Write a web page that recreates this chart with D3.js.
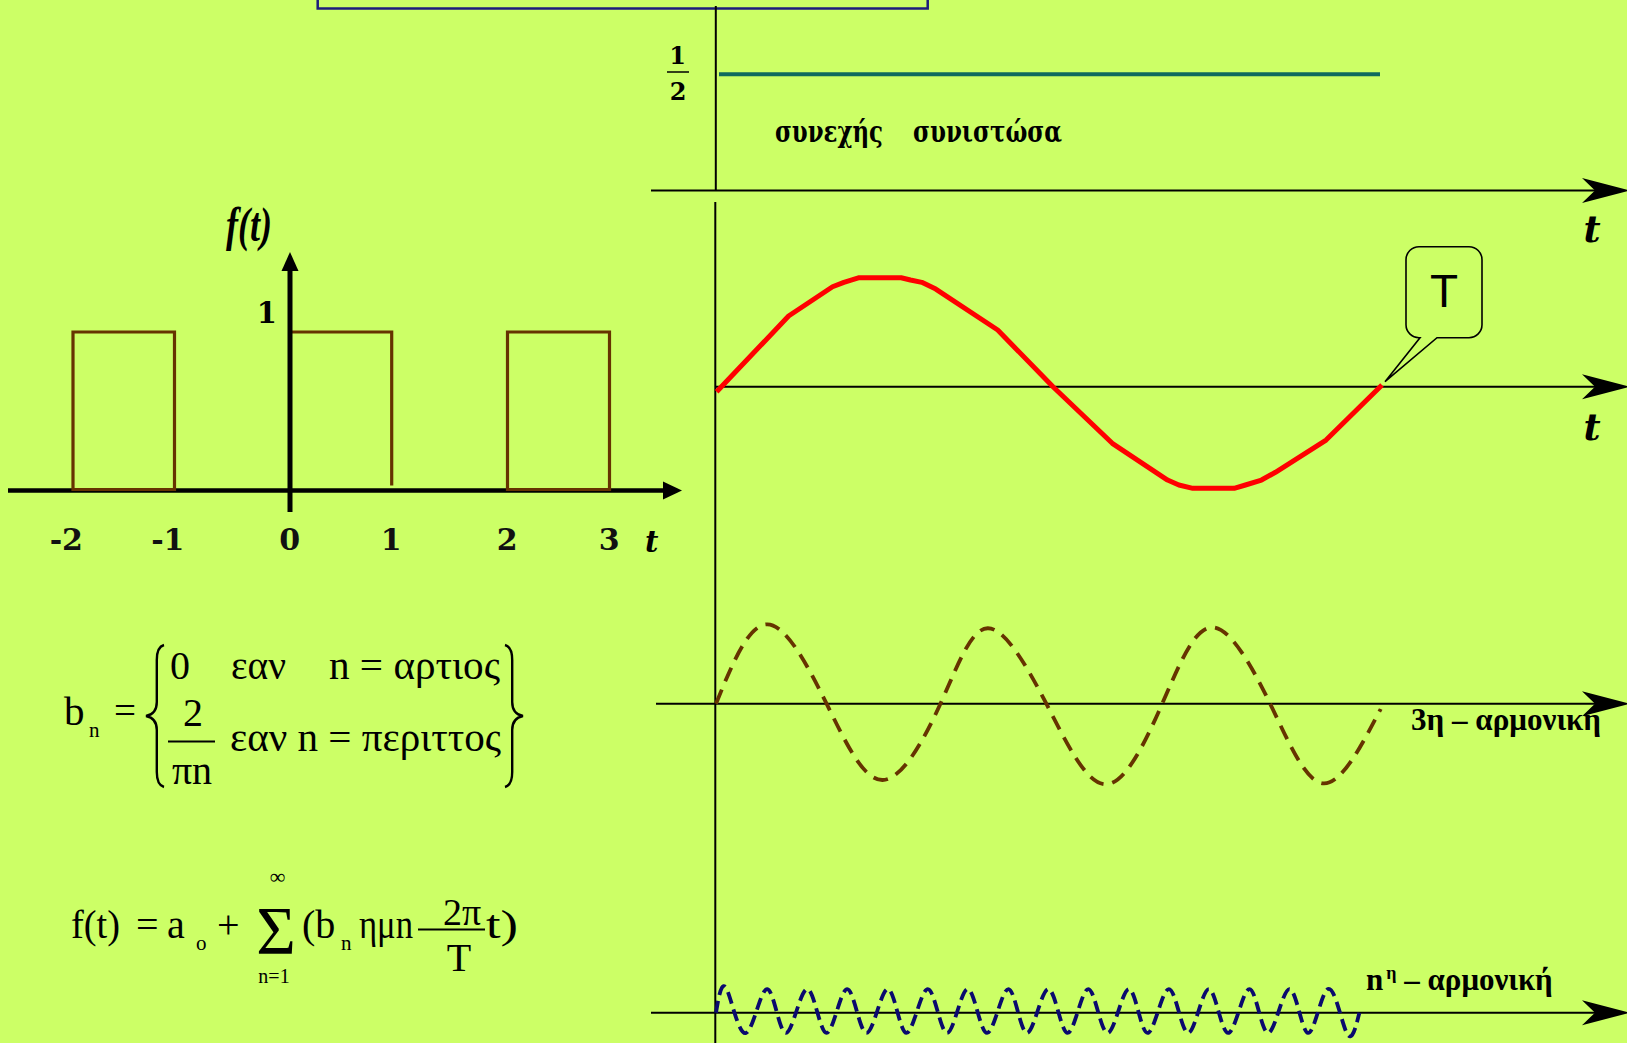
<!DOCTYPE html>
<html>
<head>
<meta charset="utf-8">
<script src="https://cdn.jsdelivr.net/npm/d3@7"></script>
<style>
  html, body { margin: 0; padding: 0; background: #ccff66; overflow: hidden; }
  svg { display: block; }
</style>
</head>
<body>
<svg id="chart" width="1627" height="1043"></svg>
<script>
// ---- Square pulse train f(t) ----
const pulseStarts = [-2, 0, 2];
const pulseEnds = [-1, 1, 3];
const pulseHeight = 1;
const squareTicks = [-2, -1, 0, 1, 2, 3];
const squareTickLabels = ["-2", "-1", "0", "1", "2", "3"];

// ---- DC component a0 ----
const dcValue = 0.5;

// ---- Fundamental over one period T (time as a fraction of T) ----
const fundT = [0.001, 0.109, 0.175, 0.192, 0.215, 0.278, 0.292, 0.309, 0.330, 0.423, 0.506,
               0.595, 0.678, 0.695, 0.716, 0.778, 0.795, 0.819, 0.840, 0.916, 1.000];
const fundV = [-0.048, 0.673, 0.952, 0.994, 1.038, 1.038, 1.016, 0.994, 0.930, 0.540, 0.000,
               -0.539, -0.889, -0.936, -0.968, -0.968, -0.936, -0.889, -0.815, -0.508, 0.016];

// ---- 3rd harmonic over the same period ----
const h3T = [0.000, 0.077, 0.166, 0.250, 0.337, 0.408, 0.496, 0.585, 0.670, 0.745, 0.832, 0.912, 0.998];
const h3V = [0.000, 1.018, 0.000, -0.978, 0.000, 0.967, 0.000, -1.033, 0.000, 0.979, 0.000, -1.021, -0.068];

// ---- n-th harmonic: crest and trough instants ----
const hnPeakT = [0.016, 0.077, 0.137, 0.197, 0.258, 0.318, 0.378, 0.439,
                 0.499, 0.559, 0.620, 0.680, 0.740, 0.801, 0.861, 0.919];
const hnTroughT = [0.045, 0.105, 0.166, 0.226, 0.286, 0.347, 0.407, 0.467,
                   0.528, 0.588, 0.648, 0.709, 0.769, 0.829, 0.889, 0.947];
const hnPeakV = 1.05;
const hnTroughV = -0.9;
const hnStartT = 0, hnEndT = 0.966;

const svg = d3.select("#chart");
svg.append("rect").attr("width", 1627).attr("height", 1043).attr("fill", "#ccff66");

const serif = "'Liberation Serif', 'Times New Roman', serif";
const heavy = "'DejaVu Serif', serif";

function txt(x, y, s, size, opts = {}) {
  const t = svg.append("text")
    .attr("x", x).attr("y", y)
    .attr("font-family", opts.family || serif)
    .attr("font-size", size)
    .attr("font-weight", opts.weight || "normal")
    .attr("font-style", opts.style || "normal")
    .attr("text-anchor", opts.anchor || "start")
    .attr("fill", opts.fill || "#000")
    .text(s);
  if (opts.width) t.attr("textLength", opts.width).attr("lengthAdjust", "spacingAndGlyphs");
  return t;
}

// frame peeking in at the top
svg.append("rect").attr("x", 317.7).attr("y", -12).attr("width", 610).attr("height", 20.5)
  .attr("fill", "none").attr("stroke", "#1c1c7c").attr("stroke-width", 2.5);

// ================= Left: square wave =================
// hand-spaced time axis: one position per integer instant
const xS = d3.scaleLinear().domain([-2, -1, 0, 1, 2, 3]).range([73, 174.5, 290, 391.7, 507.5, 609.5]);
const yS = d3.scaleLinear().domain([0, 1]).range([490.5, 332]);

// horizontal axis
svg.append("line").attr("x1", 8).attr("x2", 666).attr("y1", yS(0)).attr("y2", yS(0))
  .attr("stroke", "#000").attr("stroke-width", 4.5);
svg.append("path")
  .attr("d", `M663,${yS(0) - 9} L682,${yS(0)} L663,${yS(0) + 9} Z`).attr("fill", "#000");

// pulses
const pulses = pulseStarts.map((s, i) => ({ s, e: pulseEnds[i], h: pulseHeight }));
svg.selectAll("path.pulse").data(pulses).join("path")
  .attr("class", "pulse")
  .attr("fill", "none").attr("stroke", "#663300").attr("stroke-width", 3.2)
  .attr("stroke-linejoin", "miter")
  .attr("d", d => d.s === 0
    ? `M${xS(d.s)},${yS(d.h)} H${xS(d.e)} V${yS(0) - 5}`
    : `M${xS(d.s)},${yS(0) - 1} V${yS(d.h)} H${xS(d.e)} V${yS(0) - 1} Z`);

// vertical axis
svg.append("line").attr("x1", xS(0)).attr("x2", xS(0)).attr("y1", 512).attr("y2", 268)
  .attr("stroke", "#000").attr("stroke-width", 5);
svg.append("path")
  .attr("d", `M${xS(0) - 8.5},271 L${xS(0)},252 L${xS(0) + 8.5},271 Z`).attr("fill", "#000");

// tick labels
squareTicks.forEach((t, i) => {
  txt(xS(t) + 10, 550, squareTickLabels[i], 30, { family: heavy, weight: "bold", anchor: "end", fill: "#111" });
});
txt(645, 552, "t", 29, { family: heavy, weight: "bold", style: "italic" });
txt(277, 323, "1", 29, { family: heavy, weight: "bold", anchor: "end" });
txt(226, 241, "f(t)", 48, { style: "italic", weight: "bold", width: 46 });

// ================= Left: formulas =================
// b_n
txt(64, 725, "b", 41);
txt(89, 737, "n", 21);
txt(114, 724, "=", 39);
function brace(xa, xb, y0, y1) {
  const ym = (y0 + y1) / 2;
  const xm = xa + (xb - xa) * 0.6;
  return `M${xb},${y0} Q${xm},${y0 + 2} ${xm},${y0 + 15} V${ym - 14} Q${xm},${ym - 2} ${xa},${ym}` +
         ` Q${xm},${ym + 2} ${xm},${ym + 14} V${y1 - 15} Q${xm},${y1 - 2} ${xb},${y1}`;
}
svg.append("path").attr("d", brace(146, 164, 645, 787))
  .attr("fill", "none").attr("stroke", "#000").attr("stroke-width", 2.4);
svg.append("path").attr("d", brace(523, 505, 645, 787))
  .attr("fill", "none").attr("stroke", "#000").attr("stroke-width", 2.4);
txt(170, 679, "0", 40);
txt(231, 679, "εαν", 40, { width: 55 });
txt(329, 679, "n = αρτιος", 40, { width: 171 });
txt(193, 726, "2", 40, { anchor: "middle" });
svg.append("line").attr("x1", 168).attr("x2", 215).attr("y1", 741.5).attr("y2", 741.5)
  .attr("stroke", "#000").attr("stroke-width", 2);
txt(192, 784, "πn", 40, { anchor: "middle" });
txt(230, 751, "εαν n = περιττος", 40, { width: 271 });

// f(t) series
txt(71, 938, "f(t)", 40, { width: 49 });
txt(136, 938, "=", 40);
txt(167, 938, "a", 40);
txt(196, 950, "o", 21);
txt(217, 938, "+", 40);
{
  // summation sign with its limits as one text block
  const sum = svg.append("text").attr("font-family", serif).attr("text-anchor", "middle").attr("fill", "#000");
  sum.append("tspan").attr("x", 276).attr("y", 953).attr("font-size", 68).text("Σ");
  sum.append("tspan").attr("x", 277.5).attr("y", 884).attr("font-size", 22).text("∞");
  sum.append("tspan").attr("x", 274).attr("y", 983).attr("font-size", 20).text("n=1");
}
txt(302, 938, "(b", 40);
txt(341, 950, "n", 21);
txt(359, 938, "ημn", 40, { width: 54 });
txt(462, 925, "2π", 38, { anchor: "middle" });
svg.append("line").attr("x1", 418).attr("x2", 485).attr("y1", 929.5).attr("y2", 929.5)
  .attr("stroke", "#000").attr("stroke-width", 2);
txt(459, 971, "T", 40, { anchor: "middle" });
txt(486, 938, "t)", 40, { width: 32 });

// ================= Right: components =================
const xT = d3.scaleLinear().domain([0, 1]).range([716, 1382]);
const yDC = d3.scaleLinear().domain([0, 0.5]).range([190.5, 74.3]);
const yF = d3.scaleLinear().domain([-1, 1]).range([386.7 + 105, 386.7 - 105]);
const y3 = d3.scaleLinear().domain([-1, 1]).range([703.7 + 78, 703.7 - 78]);
const yN = d3.scaleLinear().domain([-1, 1]).range([1012.7 + 22.5, 1012.7 - 22.5]);

const rightAxes = [
  { y: yDC(0), x0: 651 },
  { y: yF(0), x0: 716 },
  { y: y3(0), x0: 656 },
  { y: yN(0), x0: 651 }
];
rightAxes.forEach(a => {
  svg.append("line").attr("x1", a.x0).attr("x2", 1596).attr("y1", a.y).attr("y2", a.y)
    .attr("stroke", "#000").attr("stroke-width", 2);
  svg.append("path")
    .attr("d", `M1630,${a.y} L1582,${a.y - 12.5} L1595,${a.y} L1582,${a.y + 12.5} Z`)
    .attr("fill", "#000");
});

// shared vertical time origin
svg.append("line").attr("x1", 715.8).attr("x2", 715.8).attr("y1", 6).attr("y2", yDC(0))
  .attr("stroke", "#000").attr("stroke-width", 2);
svg.append("line").attr("x1", 715.3).attr("x2", 715.3).attr("y1", 202).attr("y2", 1043)
  .attr("stroke", "#000").attr("stroke-width", 2);

// DC level
svg.append("line").attr("x1", xT(0) + 3).attr("x2", xT(1) - 2)
  .attr("y1", yDC(dcValue)).attr("y2", yDC(dcValue))
  .attr("stroke", "#0e6b5e").attr("stroke-width", 4);
txt(677.5, 64, "1", 24, { family: heavy, weight: "bold", anchor: "middle" });
svg.append("line").attr("x1", 667).attr("x2", 689).attr("y1", 72).attr("y2", 72)
  .attr("stroke", "#000").attr("stroke-width", 1.5);
txt(678, 100, "2", 24, { family: heavy, weight: "bold", anchor: "middle" });
txt(775, 142, "συνεχής", 29, { family: heavy, weight: "bold", width: 108 });
txt(913, 142, "συνιστώσα", 29, { family: heavy, weight: "bold", width: 149 });

// axis names
[242, 440].forEach(y => {
  txt(1592, y, "t", 37, { family: heavy, weight: "bold", style: "italic", anchor: "middle" });
});

// fundamental
const fundPts = fundT.map((t, i) => [t, fundV[i]]);
svg.append("path")
  .attr("d", d3.line().x(d => xT(d[0])).y(d => yF(d[1])).curve(d3.curveLinear)(fundPts))
  .attr("fill", "none").attr("stroke", "#ff0000").attr("stroke-width", 5)
  .attr("stroke-linejoin", "round");

// period callout
{
  const x0 = 1406, x1 = 1482, y0 = 246.7, y1 = 337.7, r = 13;
  const tipX = xT(1) + 3, tipY = yF(0) - 5;
  const d = `M${x0 + r},${y0} H${x1 - r} A${r},${r} 0 0 1 ${x1},${y0 + r} V${y1 - r}` +
            ` A${r},${r} 0 0 1 ${x1 - r},${y1} H1437 L${tipX},${tipY} L1420,${y1} H${x0 + r}` +
            ` A${r},${r} 0 0 1 ${x0},${y1 - r} V${y0 + r} A${r},${r} 0 0 1 ${x0 + r},${y0} Z`;
  svg.append("path").attr("d", d).attr("fill", "none").attr("stroke", "#000").attr("stroke-width", 1.6);
  txt(1444, 307, "T", 46, { family: "'Liberation Sans', Arial, sans-serif", anchor: "middle" });
}

// 3rd harmonic
const h3Pts = h3T.map((t, i) => [t, h3V[i]]);
svg.append("path")
  .attr("d", d3.line().x(d => xT(d[0])).y(d => y3(d[1])).curve(d3.curveNatural)(h3Pts))
  .attr("fill", "none").attr("stroke", "#663300").attr("stroke-width", 3.8)
  .attr("stroke-dasharray", "15,9");
txt(1411, 730, "3η – αρμονικη", 31, { weight: "bold", width: 190 });

// n-th harmonic
const hnPts = [[hnStartT, 0]]
  .concat(hnPeakT.map(t => [t, hnPeakV]), hnTroughT.map(t => [t, hnTroughV]), [[hnEndT, 0]])
  .sort((a, b) => a[0] - b[0]);
svg.append("path")
  .attr("d", d3.line().x(d => xT(d[0])).y(d => yN(d[1])).curve(d3.curveNatural)(hnPts))
  .attr("fill", "none").attr("stroke", "#0a0a6e").attr("stroke-width", 3.8)
  .attr("stroke-dasharray", "12,6");
{
  const t = svg.append("text").attr("x", 1366).attr("y", 990)
    .attr("font-family", serif).attr("font-size", 31).attr("font-weight", "bold");
  t.append("tspan").text("n");
  t.append("tspan").attr("font-size", 18).attr("dy", -11).attr("dx", 3).text("η");
  t.append("tspan").attr("dy", 11).text(" – αρμονική");
}
</script>
</body>
</html>
